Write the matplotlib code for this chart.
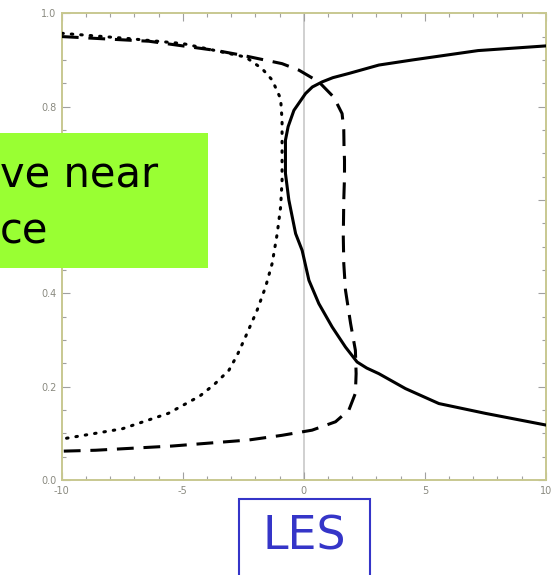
import numpy as np
import matplotlib.pyplot as plt
from matplotlib.patches import Rectangle
from matplotlib.ticker import MultipleLocator

# Profiles read as (x, height) pairs
solid_x = [10.0, 7.2, 4.5, 3.1, 1.86, 1.2, 0.76, 0.35, 0.07, -0.41, -0.65, -0.76, -0.76,
           -0.62, -0.34, -0.07, 0.21, 0.62, 1.17, 1.72, 2.2, 2.6, 3.1, 4.2, 5.58, 7.5, 10.0]
solid_y = [0.93, 0.92, 0.90, 0.889, 0.871, 0.862, 0.853, 0.842, 0.828, 0.792, 0.757,
           0.728, 0.657, 0.60, 0.528, 0.492, 0.428, 0.378, 0.328, 0.285, 0.253, 0.24,
           0.228, 0.196, 0.164, 0.143, 0.118]

dotted_x = [-10.0, -7.3, -5.0, -2.4, -1.72, -1.31, -0.96, -0.9, -0.9, -0.9, -0.96,
            -1.1, -1.31, -1.58, -1.93, -2.41, -2.75, -3.1, -3.7, -4.3, -5.6, -7.5, -10.0]
dotted_y = [0.957, 0.946, 0.935, 0.906, 0.881, 0.857, 0.817, 0.771, 0.70, 0.642, 0.585,
            0.528, 0.464, 0.414, 0.364, 0.307, 0.268, 0.235, 0.205, 0.18, 0.143, 0.11, 0.088]

dashed_x = [-10.0, -6.4, -3.6, -2.55, -0.9, -0.2, 0.62, 1.24, 1.58, 1.65, 1.66, 1.68,
            1.68, 1.65, 1.63, 1.65, 1.72, 1.93, 2.13, 2.16, 2.13, 1.86, 1.31, 0.34,
            -0.9, -2.27, -5.45, -8.6, -10.0]
dashed_y = [0.95, 0.94, 0.92, 0.91, 0.892, 0.878, 0.853, 0.82, 0.785, 0.75, 0.714, 0.685,
            0.649, 0.60, 0.521, 0.464, 0.407, 0.336, 0.278, 0.228, 0.186, 0.15, 0.125, 0.107,
            0.096, 0.086, 0.073, 0.064, 0.062]

x_ticks = [-10, -5, 0, 5, 10]
y_ticks = [0.0, 0.2, 0.4, 0.6, 0.8, 1.0]

fig = plt.figure(figsize=(5.57, 5.75), dpi=100)
ax = fig.add_axes([0.111, 0.165, 0.869, 0.812])

ax.axvline(0, color='#c8c8c8', lw=1.2, zorder=1)
ax.plot(solid_x, solid_y, color='black', lw=2.2, solid_joinstyle='round', zorder=3)
ax.plot(dotted_x, dotted_y, color='black', lw=2.2, linestyle=(0, (0.5, 2.6)),
        dash_capstyle='round', zorder=3)
ax.plot(dashed_x, dashed_y, color='black', lw=2.2, linestyle=(0, (5.5, 3.2)), zorder=3)

ax.set_xlim(-10, 10)
ax.set_ylim(0, 1.0)
ax.set_xticks(x_ticks)
ax.set_yticks(y_ticks)
ax.set_xticklabels([str(t) for t in x_ticks])
ax.set_yticklabels(['%.1f' % t for t in y_ticks])
ax.xaxis.set_minor_locator(MultipleLocator(1))
ax.yaxis.set_minor_locator(MultipleLocator(0.05))
ax.tick_params(which='both', direction='in', top=True, right=True,
               color='#a0a0a0', labelsize=7, labelcolor='#8a8a80', pad=4)
ax.tick_params(which='major', length=6, width=0.8)
ax.tick_params(which='minor', length=3, width=0.8)
for side in ax.spines.values():
    side.set_color('#c8c890')
    side.set_linestyle((0, (1.5, 1.0)))
    side.set_linewidth(1.4)
ax.set_xlabel('z/h', fontsize=5, color='#8a8a80', labelpad=2)

# green caption box on the left
fig.patches.append(Rectangle((0, 1 - 268 / 575), 208 / 557, 135 / 575,
                             transform=fig.transFigure, facecolor='#99ff33',
                             edgecolor='none', zorder=5))
fig.text(0.0, 1 - 188 / 575, 've near', fontsize=30, color='black',
         va='baseline', ha='left', zorder=6, family='DejaVu Sans')
fig.text(0.0, 1 - 243 / 575, 'ce', fontsize=30, color='black',
         va='baseline', ha='left', zorder=6, family='DejaVu Sans')

# LES label box at the bottom
fig.patches.append(Rectangle((239 / 557, -0.01), 131 / 557, 76 / 575 + 0.01,
                             transform=fig.transFigure, facecolor='white',
                             edgecolor='#3535c8', lw=1.5, zorder=5))
fig.text(304 / 557, 1 - 537 / 575, 'LES', fontsize=33, color='#3535c8',
         ha='center', va='center', zorder=6, family='DejaVu Sans')

fig.savefig('out.png', dpi=100)
